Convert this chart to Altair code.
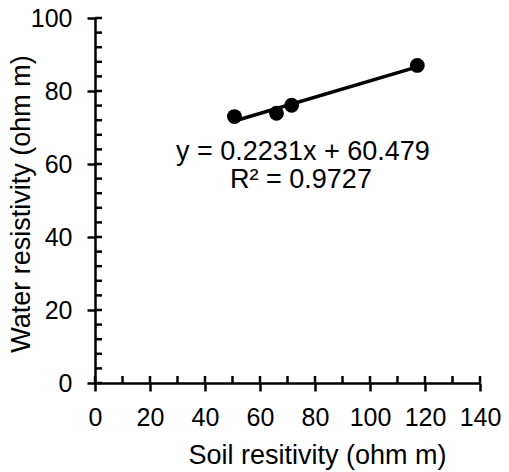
import altair as alt
import pandas as pd

soil = [50.7, 66.0, 71.5, 117.2]
water = [73.0, 73.9, 76.1, 87.0]

x_major = [0, 20, 40, 60, 80, 100, 120, 140]
x_minor = [0, 10, 20, 30, 40, 50, 60, 70, 80, 90, 100, 110, 120, 130, 140]
y_major = [0, 20, 40, 60, 80, 100]
y_minor = list(range(0, 101, 4))

eq_text = ["y = 0.2231x + 60.479", "R² = 0.9727"]
eq_x = [75.6, 74.9]
eq_y = [63.3, 55.7]

FONT = "Liberation Sans"
W, H = 385, 365

df = pd.DataFrame({"soil": soil, "water": water})
xs = alt.Scale(domain=[0, 140], nice=False, zero=False)
ys = alt.Scale(domain=[0, 100], nice=False, zero=False)

base = alt.Chart(df)

xaxis = alt.Axis(values=x_major, tickSize=8, labelPadding=14, labelOverlap=False, labelFlush=False,
                 title="Soil resitivity (ohm m)",
                 titleX=222, titleY=80, titleBaseline="alphabetic", titleFontWeight="normal")
yaxis = alt.Axis(values=y_major, tickSize=8, labelPadding=15, labelOverlap=False, labelFlush=False,
                 title="Water resistivity (ohm m)",
                 titleX=-66, titleY=H / 2 + 3, titleBaseline="alphabetic", titleFontWeight="normal")

line = base.transform_regression("soil", "water").mark_line(color="black", strokeWidth=3.5).encode(
    x=alt.X("soil:Q", scale=xs, axis=xaxis),
    y=alt.Y("water:Q", scale=ys, axis=yaxis),
)
pts = base.mark_circle(color="black", opacity=1, size=220).encode(
    x=alt.X("soil:Q", scale=xs),
    y=alt.Y("water:Q", scale=ys),
)

xt = alt.Chart(pd.DataFrame({"v": x_minor})).mark_rule(color="black", strokeWidth=2.5).encode(
    x=alt.X("v:Q", scale=xs), y=alt.value(H), y2=alt.value(H - 7)
)
yt = alt.Chart(pd.DataFrame({"v": y_minor})).mark_rule(color="black", strokeWidth=2.5).encode(
    y=alt.Y("v:Q", scale=ys), x=alt.value(0), x2=alt.value(7)
)

ann = alt.Chart(pd.DataFrame({"t": eq_text, "x": eq_x, "y": eq_y})).mark_text(
    font=FONT, fontSize=27, color="black", align="center", baseline="middle"
).encode(
    x=alt.X("x:Q", scale=xs), y=alt.Y("y:Q", scale=ys), text="t:N"
)

chart = alt.layer(line, xt, yt, pts, ann).properties(
    width=W, height=H,
    autosize=alt.AutoSizeParams(type="none"),
    padding={"left": 87, "top": 10, "right": 21, "bottom": 88},
).configure_view(stroke=None).configure_axis(
    grid=False, domainColor="black", domainWidth=2.5, tickColor="black", tickWidth=2.5,
    labelFont=FONT, labelFontSize=25, labelColor="black",
    titleFont=FONT, titleFontSize=27, titleColor="black",
)

chart.save("out.html", embed_options={"renderer": "svg", "actions": False})
